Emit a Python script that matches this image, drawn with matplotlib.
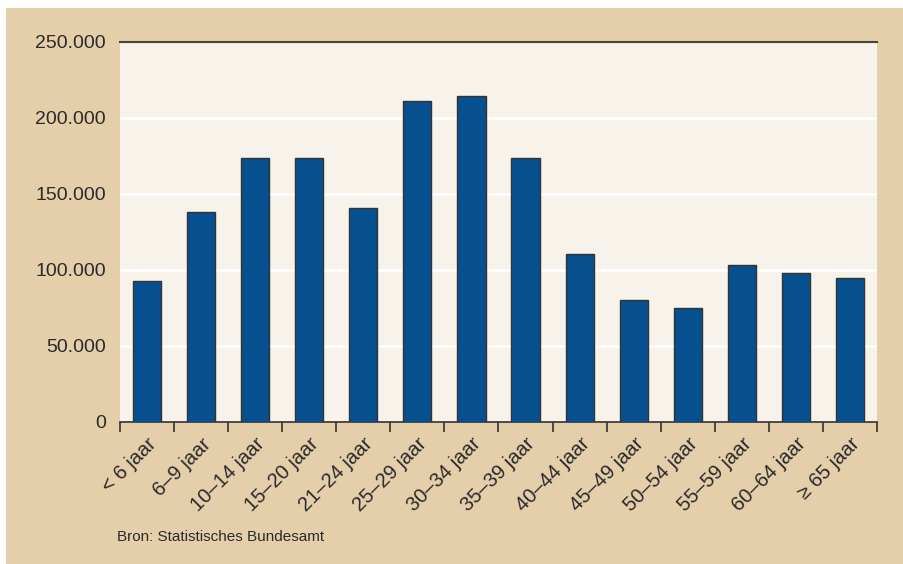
import matplotlib
matplotlib.use("Agg")
import matplotlib.pyplot as plt
from matplotlib.patches import Rectangle
from matplotlib.ticker import FuncFormatter
import numpy as np

# -------------------------------------------------------------
# Data
# -------------------------------------------------------------
categories = ["< 6 jaar", "6–9 jaar", "10–14 jaar", "15–20 jaar", "21–24 jaar",
              "25–29 jaar", "30–34 jaar", "35–39 jaar", "40–44 jaar", "45–49 jaar",
              "50–54 jaar", "55–59 jaar", "60–64 jaar", "≥ 65 jaar"]
values = [93000, 138000, 173500, 173500, 141000,
          211000, 214500, 174000, 110500, 80000,
          75000, 103000, 98000, 95000]
y_ticks = [0, 50000, 100000, 150000, 200000, 250000]
source_text = "Bron: Statistisches Bundesamt"

# -------------------------------------------------------------
# Styling
# -------------------------------------------------------------
plt.rcParams['font.family'] = ['Liberation Sans', 'DejaVu Sans']
page_color = "#E5CEAA"
panel_color = "#F7F2EA"
bar_color = "#07508F"
text_color = "#2a2a2a"

fig = plt.figure(figsize=(9.04, 5.64), dpi=100)
fig.patch.set_facecolor("white")
fig.patches.append(Rectangle((6 / 904, 0), 1, (564 - 8) / 564,
                             transform=fig.transFigure, facecolor=page_color,
                             edgecolor="none", zorder=-10))

ax = fig.add_axes([120 / 904, 1 - 422 / 564, (877 - 120) / 904, (422 - 42) / 564])
ax.set_facecolor(panel_color)

x = np.arange(len(categories))
ax.bar(x, values, width=0.52, color=bar_color, edgecolor="#333333", linewidth=1.0, zorder=3)

ax.set_xlim(-0.5, len(categories) - 0.5)
ax.set_ylim(0, 250000)

# y axis
ax.set_yticks(y_ticks)
ax.yaxis.set_major_formatter(FuncFormatter(lambda v, p: f"{int(v):,}".replace(",", ".")))
ax.tick_params(axis="y", length=0, pad=10, labelsize=14, labelcolor=text_color)
for t in y_ticks[1:-1]:
    ax.axhline(t, color="white", linewidth=2, zorder=1)

# x axis: labels at centres, tick marks at boundaries
ax.set_xticks(x)
ax.set_xticklabels(categories, rotation=45, ha="right", rotation_mode="anchor")
ax.tick_params(axis="x", which="major", length=0, pad=9, labelsize=14.5, labelcolor=text_color)
ax.set_xticks(np.arange(len(categories) + 1) - 0.5, minor=True)
ax.tick_params(axis="x", which="minor", length=7, width=1.2, color="#333333", direction="out")

for side in ["left", "right"]:
    ax.spines[side].set_visible(False)
ax.spines["top"].set_color("#4a4438")
ax.spines["top"].set_linewidth(1.5)
ax.spines["bottom"].set_color("#333333")
ax.spines["bottom"].set_linewidth(1.2)

fig.text(117 / 904, 1 - 537 / 564, source_text, fontsize=11, color=text_color, va="center")

fig.savefig("out.png", dpi=100, facecolor=fig.get_facecolor())
